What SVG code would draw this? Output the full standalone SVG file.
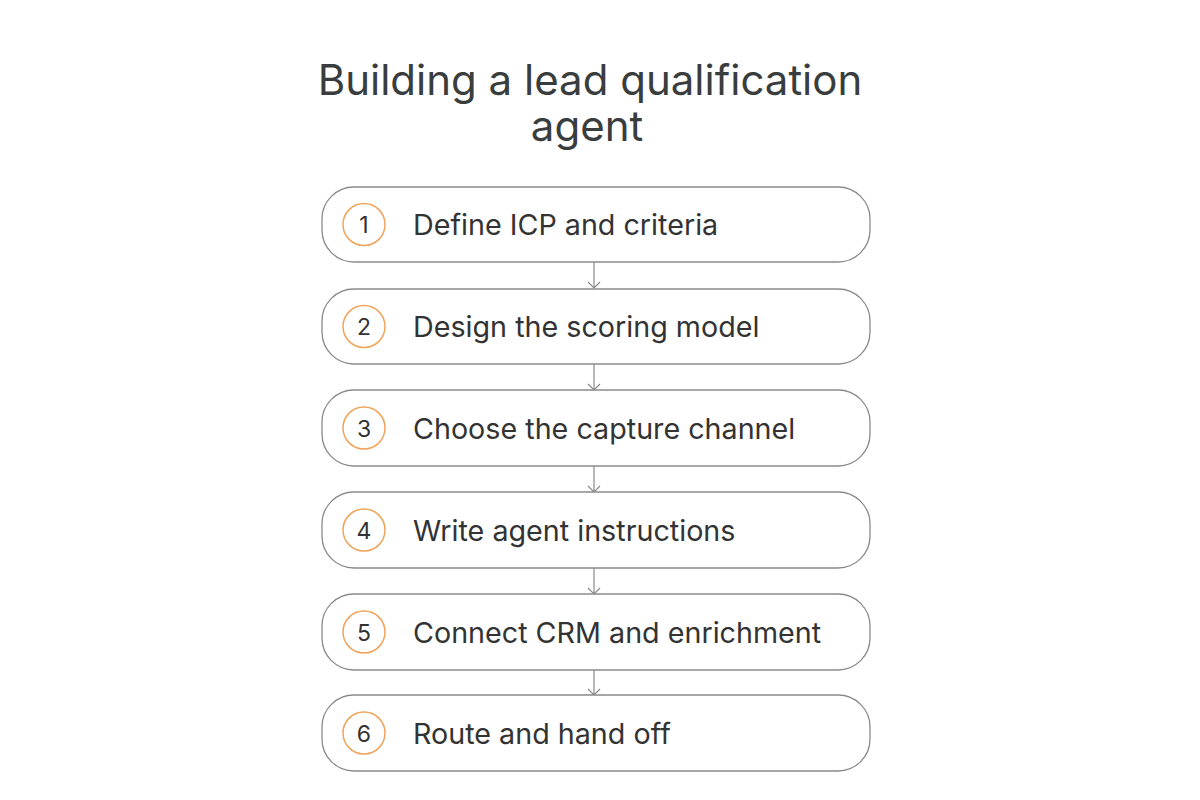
<svg xmlns="http://www.w3.org/2000/svg" width="1200" height="800" viewBox="0 0 1200 800">
<defs>
<style>
.box{fill:#fff;stroke:#8a8a8a;stroke-width:1.3}
.num{fill:none;stroke:#f0a35a;stroke-width:1.5}
.nt{font-family:Inter,"Noto Sans",sans-serif;font-size:23px;fill:#333;text-anchor:middle}
.lt{font-family:Inter,"Noto Sans",sans-serif;font-size:28.7px;fill:#333}
.title{font-family:Inter,"Noto Sans",sans-serif;font-size:42px;fill:#3a3d3d;text-anchor:middle}
.conn{stroke:#8a8a8a;stroke-width:1.2;fill:none}
</style>
</defs>
<rect width="1200" height="800" fill="#fff"/>
<g id="title">
<text class="title" x="590" y="95">Building a lead qualification</text>
<text class="title" x="587" y="141">agent</text>
</g>
<g id="connectors">
<path class="conn" d="M594,262 V288 M588,282 L594,288 L600,282"/>
<path class="conn" d="M594,364 V390 M588,384 L594,390 L600,384"/>
<path class="conn" d="M594,466 V492 M588,486 L594,492 L600,486"/>
<path class="conn" d="M594,568 V594 M588,588 L594,594 L600,588"/>
<path class="conn" d="M594,670 V695 M588,689 L594,695 L600,689"/>
</g>
<g id="step1">
<rect class="box" x="322" y="187" width="548" height="75" rx="32"/>
<circle class="num" cx="364" cy="224.5" r="21"/>
<text class="nt" x="364" y="233">1</text>
<text class="lt" x="413" y="235">Define ICP and criteria</text>
</g>
<g id="step2">
<rect class="box" x="322" y="289" width="548" height="75" rx="32"/>
<circle class="num" cx="364" cy="326.5" r="21"/>
<text class="nt" x="364" y="335">2</text>
<text class="lt" x="413" y="337">Design the scoring model</text>
</g>
<g id="step3">
<rect class="box" x="322" y="390" width="548" height="76" rx="32"/>
<circle class="num" cx="364" cy="428" r="21"/>
<text class="nt" x="364" y="436.5">3</text>
<text class="lt" x="413" y="438.5">Choose the capture channel</text>
</g>
<g id="step4">
<rect class="box" x="322" y="492" width="548" height="76" rx="32"/>
<circle class="num" cx="364" cy="530" r="21"/>
<text class="nt" x="364" y="538.5">4</text>
<text class="lt" x="413" y="540.5">Write agent instructions</text>
</g>
<g id="step5">
<rect class="box" x="322" y="594" width="548" height="76" rx="32"/>
<circle class="num" cx="364" cy="632" r="21"/>
<text class="nt" x="364" y="640.5">5</text>
<text class="lt" x="413" y="642.5">Connect CRM and enrichment</text>
</g>
<g id="step6">
<rect class="box" x="322" y="695" width="548" height="76" rx="32"/>
<circle class="num" cx="364" cy="733" r="21"/>
<text class="nt" x="364" y="741.5">6</text>
<text class="lt" x="413" y="743.5">Route and hand off</text>
</g>
</svg>
